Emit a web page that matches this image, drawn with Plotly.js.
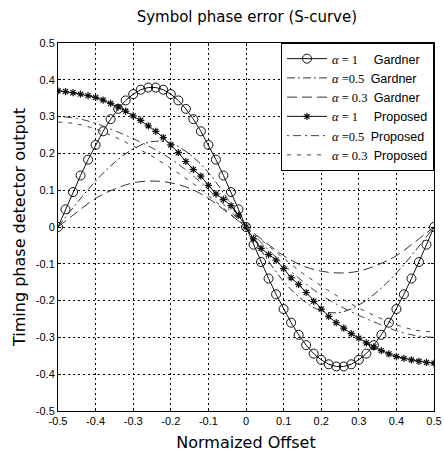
<!DOCTYPE html>
<html><head><meta charset="utf-8">
<script src="https://cdn.plot.ly/plotly-3.0.1.min.js"></script>
<style>html,body{margin:0;padding:0;background:#fff;}#chart{width:444px;height:461px;}</style>
</head><body><div id="chart"></div>
<script>
// Dense offsets (marker curves)
const xDense = [-0.5,-0.48,-0.46,-0.44,-0.42,-0.4,-0.38,-0.36,-0.34,-0.32,-0.3,-0.28,-0.26,-0.24,-0.22,-0.2,-0.18,-0.16,-0.14,-0.12,-0.1,-0.08,-0.06,-0.04,-0.02,0,
  0.02,0.04,0.06,0.08,0.1,0.12,0.14,0.16,0.18,0.2,0.22,0.24,0.26,0.28,0.3,0.32,0.34,0.36,0.38,0.4,0.42,0.44,0.46,0.48,0.5];
const gardner1 = [0,0.048,0.095,0.140,0.183,0.223,0.260,0.293,0.321,0.344,0.361,0.373,0.379,0.379,0.373,0.361,0.344,0.321,0.293,0.260,0.223,0.183,0.140,0.095,0.048,0,
  -0.048,-0.095,-0.140,-0.183,-0.223,-0.260,-0.293,-0.321,-0.344,-0.361,-0.373,-0.379,-0.379,-0.373,-0.361,-0.344,-0.321,-0.293,-0.260,-0.223,-0.183,-0.140,-0.095,-0.048,0];
const proposed1 = [0.37,0.368,0.365,0.361,0.357,0.352,0.345,0.336,0.326,0.315,0.302,0.29,0.275,0.26,0.243,0.223,0.202,0.178,0.156,0.138,0.113,0.09,0.075,0.058,0.032,0,
  -0.032,-0.058,-0.075,-0.09,-0.113,-0.138,-0.156,-0.178,-0.202,-0.223,-0.243,-0.26,-0.275,-0.29,-0.302,-0.315,-0.326,-0.336,-0.345,-0.352,-0.357,-0.361,-0.365,-0.368,-0.37];
// Coarse offsets (line-only curves)
const xCoarse = [-0.5,-0.45,-0.4,-0.35,-0.3,-0.25,-0.2,-0.15,-0.1,-0.05,0,0.05,0.1,0.15,0.2,0.25,0.3,0.35,0.4,0.45,0.5];
const gardner05 = [0,0.065,0.125,0.175,0.212,0.232,0.228,0.198,0.148,0.078,0,-0.078,-0.148,-0.198,-0.228,-0.232,-0.212,-0.175,-0.125,-0.065,0];
const gardner03 = [0,0.04,0.078,0.103,0.12,0.125,0.12,0.105,0.078,0.04,0,-0.04,-0.078,-0.105,-0.12,-0.125,-0.12,-0.103,-0.078,-0.04,0];
const proposed05 = [0.300,0.295,0.282,0.262,0.240,0.215,0.185,0.147,0.102,0.052,0,-0.052,-0.102,-0.147,-0.185,-0.215,-0.240,-0.262,-0.282,-0.295,-0.300];
const proposed03 = [0.285,0.280,0.266,0.245,0.220,0.192,0.160,0.125,0.085,0.043,0,-0.043,-0.085,-0.125,-0.160,-0.192,-0.220,-0.245,-0.266,-0.280,-0.285];
const tickVals = [-0.5,-0.4,-0.3,-0.2,-0.1,0,0.1,0.2,0.3,0.4,0.5];
const tickText = ["-0.5","-0.4","-0.3","-0.2","-0.1","0","0.1","0.2","0.3","0.4","0.5"];
const alphaLabels = ["<i>α</i> = 1     ", "<i>α</i> =0.5  ", "<i>α</i> = 0.3  ", "<i>α</i> = 1     ", "<i>α</i> =0.5  ", "<i>α</i> = 0.3  "];
const methodLabels = ["Gardner", "Gardner", "Gardner", "Proposed", "Proposed", "Proposed"];
const legendNames = alphaLabels.map((a, i) =>
  a + '<span style="font-family:Liberation Sans Narrow, Liberation Sans, Arial, sans-serif">' + methodLabels[i] + '</span>');

const traces = [
  {x:xDense, y:gardner1, name:legendNames[0], mode:'lines+markers',
   line:{color:'#111',width:1}, marker:{symbol:'circle-open',size:9,color:'#111',line:{width:1}}},
  {x:xCoarse, y:gardner05, name:legendNames[1], mode:'lines',
   line:{color:'#333',width:1,dash:'8px,3px,2px,3px',shape:'spline'}},
  {x:xCoarse, y:gardner03, name:legendNames[2], mode:'lines',
   line:{color:'#333',width:1,dash:'10px,5px',shape:'spline'}},
  {x:xDense, y:proposed1, name:legendNames[3], mode:'lines+markers',
   line:{color:'#111',width:1}, marker:{symbol:'asterisk-open',size:6,color:'#111',line:{width:1.2,color:'#111'}}},
  {x:xCoarse, y:proposed05, name:legendNames[4], mode:'lines',
   line:{color:'#444',width:1,dash:'2px,4px,8px,4px',shape:'spline'}},
  {x:xCoarse, y:proposed03, name:legendNames[5], mode:'lines',
   line:{color:'#444',width:1,dash:'4px,6px',shape:'spline'}}
];

const axisCommon = {
  range:[-0.5,0.5], tickvals:tickVals, ticktext:tickText,
  showline:true, linecolor:'#000', linewidth:1, mirror:'ticks',
  ticks:'inside', ticklen:3, tickcolor:'#000',
  showgrid:true, gridcolor:'#000', griddash:'2px,3px', gridwidth:1,
  zeroline:false, tickfont:{family:'Liberation Sans, Arial, sans-serif', size:11, color:'#000'}
};

const layout = {
  width:444, height:461,
  margin:{l:58, r:10, t:43, b:50},
  paper_bgcolor:'#fff', plot_bgcolor:'#fff',
  title:{text:'Symbol phase error (S-curve)', x:0.556, xanchor:'center', y:0.963, yanchor:'middle',
         font:{family:'DejaVu Sans, sans-serif', size:15, color:'#000'}},
  xaxis:Object.assign({}, axisCommon, {title:{text:'Normaized Offset', standoff:10,
         font:{family:'DejaVu Sans, sans-serif', size:16, color:'#000'}}}),
  yaxis:Object.assign({}, axisCommon, {title:{text:'Timing phase detector output', standoff:6,
         font:{family:'DejaVu Sans, sans-serif', size:16, color:'#000'}}}),
  showlegend:true,
  legend:{x:1, y:1, xanchor:'right', yanchor:'top', bgcolor:'#fff', bordercolor:'#000', borderwidth:1,
          font:{family:'Liberation Serif, serif', size:12.5, color:'#000'}, itemwidth:40, tracegroupgap:0}
};

Plotly.newPlot('chart', traces, layout, {displayModeBar:false, staticPlot:true});
</script>
</body></html>
